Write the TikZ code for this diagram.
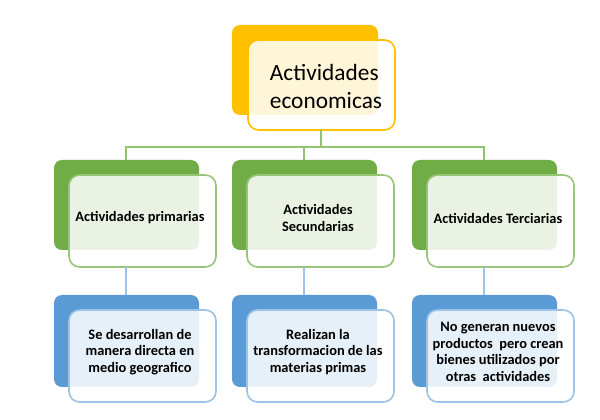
\documentclass[tikz,border=0pt]{standalone}
\usepackage{fontspec}
\setmainfont{Carlito}
\begin{document}
\begin{tikzpicture}[x=0.75pt,y=-0.75pt,
 back/.style={rounded corners=6pt},
 front/.style={rounded corners=8pt,fill=white,fill opacity=0.85,text opacity=1,line width=1.2pt},
 lbl/.style={font=\bfseries\fontsize{10.8}{12.5}\selectfont,align=center},
 conn/.style={line width=1pt}]
\useasboundingbox[fill=white] (0,0) rectangle (600,420);
\definecolor{orng}{HTML}{FFC000}
\definecolor{grn}{HTML}{70AD47}
\definecolor{blu}{HTML}{5B9BD5}
\definecolor{lblu}{HTML}{9DC3E6}
\definecolor{lgrn}{HTML}{A9D18E}
% top
\fill[orng,back] (232,25) rectangle (378,115);
\draw[front,draw=orng] (248,40) rectangle (395,130);
\node[font=\fontsize{17.5}{21}\selectfont,align=left] (top) at (326,86) {Actividades\\economicas};
\coordinate (tb) at (321,130);
\foreach \i/\x/\t/\b in {1/54/{Actividades primarias}/{Se desarrollan de\\manera directa en\\medio geografico},
 2/232/{Actividades\\Secundarias}/{Realizan la\\transformacion de las\\materias primas},
 3/412/{Actividades Terciarias}/{No generan nuevos\\productos\ \ pero crean\\bienes utilizados por\\otras\ \ actividades}}{
 \fill[grn,back] (\x,160) rectangle (\x+145,250);
 \draw[front,draw=lgrn!70!grn] (\x+15,175) rectangle (\x+162,267);
 \node[lbl] (g\i) at (\x+86,218) {\t};
 \coordinate (gt\i) at (\x+72,160);
 \coordinate (gb\i) at (\x+72,267);
 \coordinate (bt\i) at (\x+72,295);
 \fill[blu,back] (\x,295) rectangle (\x+145,387);
 \draw[front,draw=lblu] (\x+15,310) rectangle (\x+162,402);
 \node[lbl] (b\i) at (\x+86,352) {\b};
 \draw[conn,lblu] (gb\i) -- (bt\i);
}
\draw[conn,lgrn!60!grn] (tb) -- (321,147) (gt1) |- (321,147) -| (gt3) (gt2) -- (gt2|-0,147);
\end{tikzpicture}
\end{document}
